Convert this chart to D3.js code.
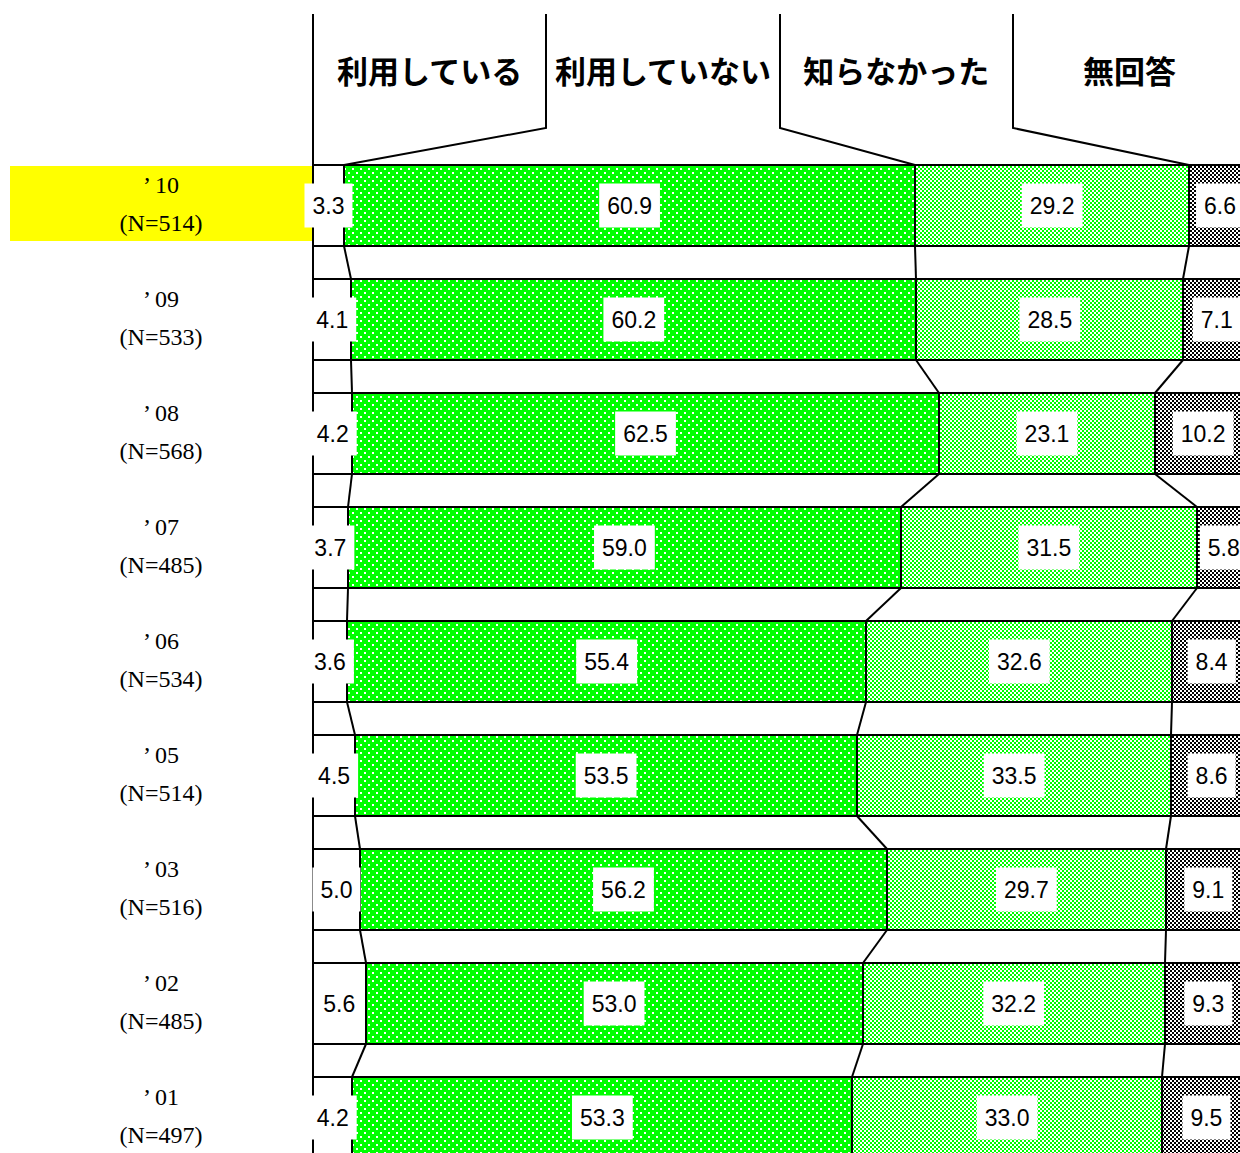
<!DOCTYPE html>
<html>
<head>
<meta charset="utf-8">
<script src="https://cdn.jsdelivr.net/npm/d3@7"></script>
<style>
  body { margin: 0; background: #fff; }
  svg { display: block; }
</style>
</head>
<body>
<div id="chart"></div>
<script>
// survey answers by year (percent)
const years = ["’10", "’09", "’08", "’07", "’06", "’05", "’03", "’02", "’01"];
const counts = [514, 533, 568, 485, 534, 514, 516, 485, 497];
const categories = ["利用している", "利用していない", "知らなかった", "無回答"];
const using = [3.3, 4.1, 4.2, 3.7, 3.6, 4.5, 5.0, 5.6, 4.2];
const notUsing = [60.9, 60.2, 62.5, 59.0, 55.4, 53.5, 56.2, 53.0, 53.3];
const unknown = [29.2, 28.5, 23.1, 31.5, 32.6, 33.5, 29.7, 32.2, 33.0];
const noAnswer = [6.6, 7.1, 10.2, 5.8, 8.4, 8.6, 9.1, 9.3, 9.5];

const W = 1240, H = 1153;
const svg = d3.select("#chart").append("svg")
  .attr("width", W)
  .attr("height", H);

const defs = svg.append("defs");

// dense green with a few white dots
const p1 = defs.append("pattern").attr("id", "pGreen").attr("patternUnits", "userSpaceOnUse")
  .attr("width", 8).attr("height", 8);
p1.append("rect").attr("width", 8).attr("height", 8).attr("fill", "#00ff00");
[[0, 0], [4, 4]].forEach(function(d) {
  p1.append("rect").attr("x", d[0]).attr("y", d[1]).attr("width", 2).attr("height", 2).attr("fill", "#fff");
});

// green / white checker
const p2 = defs.append("pattern").attr("id", "pLight").attr("patternUnits", "userSpaceOnUse")
  .attr("width", 4).attr("height", 4);
p2.append("rect").attr("width", 4).attr("height", 4).attr("fill", "#fff");
p2.append("rect").attr("width", 2).attr("height", 2).attr("fill", "#00ff00");
p2.append("rect").attr("x", 2).attr("y", 2).attr("width", 2).attr("height", 2).attr("fill", "#00ff00");

// black / white checker
const p3 = defs.append("pattern").attr("id", "pBlack").attr("patternUnits", "userSpaceOnUse")
  .attr("width", 4).attr("height", 4);
p3.append("rect").attr("width", 4).attr("height", 4).attr("fill", "#fff");
p3.append("rect").attr("width", 2).attr("height", 2).attr("fill", "#000");
p3.append("rect").attr("x", 2).attr("y", 2).attr("width", 2).attr("height", 2).attr("fill", "#000");
defs.selectAll("rect").attr("shape-rendering", "crispEdges");

const fills = ["#fff", "url(#pGreen)", "url(#pLight)", "url(#pBlack)"];

const x = d3.scaleLinear().domain([0, 100]).range([313, 1251]);
const y = d3.scaleBand().domain(years).range([165, 1158]).paddingInner(33 / 114).paddingOuter(0);
const bh = y.bandwidth();

const series = [using, notUsing, unknown, noAnswer];
const rows = years.map(function(yr, i) {
  let acc = 0;
  const segs = series.map(function(s, k) {
    const seg = { k: k, v: s[i], x0: acc, x1: acc + s[i] };
    acc += s[i];
    return seg;
  });
  return { year: yr, n: counts[i], i: i, segs: segs };
});

// highlight the latest year
svg.append("rect")
  .attr("x", 10).attr("y", y(years[0]) + 1)
  .attr("width", 302).attr("height", 75)
  .attr("fill", "#ffff00");

// gaps between bars (white band with outline)
const g = svg.append("g");
rows.slice(0, -1).forEach(function(r) {
  const top = y(r.year) + bh;
  const next = y(years[r.i + 1]);
  g.append("rect")
    .attr("x", x(0)).attr("y", top)
    .attr("width", x(100) - x(0)).attr("height", next - top)
    .attr("fill", "#fff").attr("stroke", "#000").attr("stroke-width", 2);
});

// bars
rows.forEach(function(r) {
  g.selectAll(null)
    .data(r.segs)
    .enter()
    .append("rect")
    .attr("x", function(d) { return Math.round(x(d.x0)) })
    .attr("y", y(r.year))
    .attr("width", function(d) { return Math.round(x(d.x1)) - Math.round(x(d.x0)) })
    .attr("height", bh)
    .attr("fill", function(d) { return fills[d.k] })
    .attr("stroke", "#000")
    .attr("stroke-width", 2)
    .attr("shape-rendering", "crispEdges");
});

// connector lines between bars
rows.slice(0, -1).forEach(function(r) {
  const nxt = rows[r.i + 1];
  [1, 2, 3].forEach(function(k) {
    g.append("line")
      .attr("x1", Math.round(x(r.segs[k].x0))).attr("y1", y(r.year) + bh)
      .attr("x2", Math.round(x(nxt.segs[k].x0))).attr("y2", y(nxt.year))
      .attr("stroke", "#000").attr("stroke-width", 2);
  });
});

// header
const headTop = 14, headBottom = 128;
const cellW = 233.3;
const hd = svg.append("g");
hd.append("line")
  .attr("x1", x(0)).attr("y1", headTop)
  .attr("x2", x(0)).attr("y2", H)
  .attr("stroke", "#000").attr("stroke-width", 2);
[1, 2, 3].forEach(function(k) {
  const hx = Math.round(x(0) + cellW * k);
  hd.append("polyline")
    .attr("points", [[hx, headTop], [hx, headBottom], [Math.round(x(rows[0].segs[k].x0)), y(years[0])]].join(" "))
    .attr("fill", "none")
    .attr("stroke", "#000").attr("stroke-width", 2);
});
hd.selectAll("text")
  .data(categories)
  .enter()
  .append("text")
  .attr("x", function(d, k) { return x(0) + cellW * (k + 0.5) })
  .attr("y", 69)
  .attr("text-anchor", "middle")
  .attr("dominant-baseline", "central")
  .attr("font-family", "'Noto Sans CJK JP', sans-serif")
  .attr("font-weight", "bold")
  .attr("font-size", 31)
  .attr("fill", "#000")
  .text(function(d) { return d });

// value labels
rows.forEach(function(r) {
  const cy = y(r.year) + bh / 2;
  r.segs.forEach(function(s) {
    const cx = x((s.x0 + s.x1) / 2);
    const t = svg.append("text")
      .attr("x", cx).attr("y", cy)
      .attr("text-anchor", "middle")
      .attr("dominant-baseline", "central")
      .attr("font-family", "'Liberation Sans', Arial, sans-serif")
      .attr("font-size", 23)
      .attr("fill", "#000")
      .text(s.v.toFixed(1));
    const bb = t.node().getBBox();
    svg.insert("rect", function() { return t.node() })
      .attr("x", bb.x - 8).attr("y", cy - 22)
      .attr("width", bb.width + 16).attr("height", 44)
      .attr("fill", "#fff");
  });
});

// year labels
const lab = svg.append("g")
  .attr("font-family", "'Liberation Serif', 'DejaVu Serif', serif")
  .attr("font-size", 24)
  .attr("fill", "#000")
  .attr("text-anchor", "middle");
rows.forEach(function(r) {
  const cy = y(r.year) + bh / 2;
  lab.append("text").attr("x", 161).attr("y", cy - 13).text(r.year.replace("’", "’ "));
  lab.append("text").attr("x", 161).attr("y", cy + 25).text("(N=" + r.n + ")");
});
</script>
</body>
</html>
